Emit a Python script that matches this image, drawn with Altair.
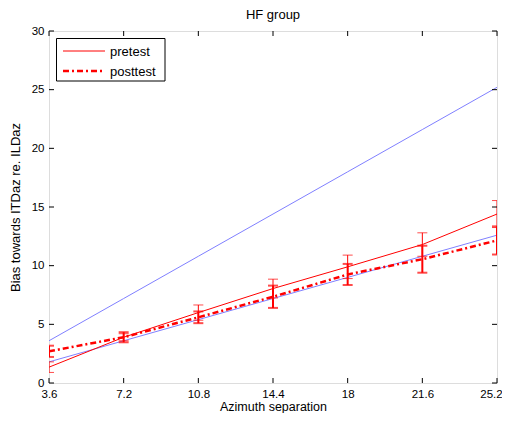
import altair as alt
import pandas as pd

# ---- data ----
azimuth = [3.6, 7.2, 10.8, 14.4, 18, 21.6, 25.2]
pretest = [1.35, 3.9, 6.0, 8.05, 9.9, 11.8, 14.4]
pretest_err = [0.45, 0.3, 0.65, 0.8, 1.0, 1.0, 1.15]
posttest = [2.7, 3.9, 5.6, 7.35, 9.25, 10.55, 12.15]
posttest_err = [0.48, 0.43, 0.5, 0.95, 0.9, 1.15, 1.2]
ref_full = [3.6, 7.2, 10.8, 14.4, 18, 21.6, 25.2]
ref_half = [1.8, 3.6, 5.4, 7.2, 9.0, 10.8, 12.6]
x_ticks = [3.6, 7.2, 10.8, 14.4, 18, 21.6, 25.2]
y_ticks = [0, 5, 10, 15, 20, 25, 30]
series_names = ["pretest", "posttest"]

W, H = 448, 352
RED = "#ff0000"
BLUE = "#8080ff"
FONT = "Liberation Sans"

ref_df = pd.DataFrame({
    "x": azimuth * 2,
    "y": ref_full + ref_half,
    "ref": ["full"] * len(azimuth) + ["half"] * len(azimuth),
})
pre_df = pd.DataFrame({"x": azimuth, "y": pretest, "lo": [a - b for a, b in zip(pretest, pretest_err)],
                       "hi": [a + b for a, b in zip(pretest, pretest_err)]})
post_df = pd.DataFrame({"x": azimuth, "y": posttest, "lo": [a - b for a, b in zip(posttest, posttest_err)],
                        "hi": [a + b for a, b in zip(posttest, posttest_err)]})

xscale = alt.Scale(domain=[3.6, 25.2], nice=False, zero=False)
yscale = alt.Scale(domain=[0, 30], nice=False, zero=False)

xaxis = alt.Axis(values=x_ticks, format=".3~g", title="Azimuth separation", grid=False, ticks=False,
                 tickSize=0, domain=False, labelPadding=5, labelFontSize=11.5,
                 labelOffset={"condition": {"test": "datum.value > 25", "value": -6}, "value": 0},
                 titleFontSize=12.5, titleBaseline="alphabetic", titleY=27,
                 labelColor="black", titleColor="black", labelFont=FONT,
                 titleFont=FONT, titleFontWeight="normal", labelFlush=False, labelOverlap=False)
yaxis = alt.Axis(values=y_ticks, title="Bias towards ITDaz re. ILDaz", grid=False, ticks=False,
                 tickSize=0, domain=False, labelPadding=5, titlePadding=9, labelFontSize=11.5,
                 titleFontSize=13, labelColor="black", titleColor="black", labelFont=FONT,
                 titleFont=FONT, titleFontWeight="normal", labelFlush=False, labelOverlap=False)

X = alt.X("x:Q", scale=xscale, axis=xaxis)
Y = alt.Y("y:Q", scale=yscale, axis=yaxis)

ref_lines = alt.Chart(ref_df).mark_line(color=BLUE, strokeWidth=1, clip=True).encode(
    x=X, y=Y, detail="ref:N")

pre_line = alt.Chart(pre_df).mark_line(color=RED, strokeWidth=1, clip=True).encode(x=X, y=Y)
post_line = alt.Chart(post_df).mark_line(color=RED, strokeWidth=2.5, strokeDash=[6, 3, 2, 3],
                                         clip=True).encode(x=X, y=Y)

def errbars(df, width):
    base = alt.Chart(df)
    rule = base.mark_rule(color=RED, strokeWidth=width, clip=True).encode(
        x=alt.X("x:Q", scale=xscale), y=alt.Y("lo:Q", scale=yscale), y2="hi:Q")
    cap_lo = base.mark_tick(color=RED, orient="horizontal", size=10, thickness=width, clip=True).encode(
        x=alt.X("x:Q", scale=xscale), y=alt.Y("lo:Q", scale=yscale))
    cap_hi = base.mark_tick(color=RED, orient="horizontal", size=10, thickness=width, clip=True).encode(
        x=alt.X("x:Q", scale=xscale), y=alt.Y("hi:Q", scale=yscale))
    return rule + cap_lo + cap_hi

pre_err = errbars(pre_df, 1)
post_err = errbars(post_df, 2)

# inward axis ticks (MATLAB style box)
xt = pd.DataFrame({"x": x_ticks})
yt = pd.DataFrame({"y": y_ticks})
TL = 5
tick_bottom = alt.Chart(xt).mark_rule(color="black", strokeWidth=1).encode(
    x=alt.X("x:Q", scale=xscale), y=alt.value(H - TL), y2=alt.value(H))
tick_top = alt.Chart(xt).mark_rule(color="black", strokeWidth=1).encode(
    x=alt.X("x:Q", scale=xscale), y=alt.value(0), y2=alt.value(TL))
tick_left = alt.Chart(yt).mark_rule(color="black", strokeWidth=1).encode(
    y=alt.Y("y:Q", scale=yscale), x=alt.value(0), x2=alt.value(TL))
tick_right = alt.Chart(yt).mark_rule(color="black", strokeWidth=1).encode(
    y=alt.Y("y:Q", scale=yscale), x=alt.value(W - TL), x2=alt.value(W))

# legend box
dummy = alt.Data(values=[{"k": 0}])
leg_box = alt.Chart(dummy).mark_rect(fill="white", stroke="black", strokeWidth=1).encode(
    x=alt.value(7.5), x2=alt.value(116), y=alt.value(7.5), y2=alt.value(50))
leg_pre = alt.Chart(dummy).mark_rule(color=RED, strokeWidth=1).encode(
    x=alt.value(14), x2=alt.value(56), y=alt.value(20))
leg_post = alt.Chart(dummy).mark_rule(color=RED, strokeWidth=2.5, strokeDash=[6, 3, 2, 3]).encode(
    x=alt.value(14), x2=alt.value(56), y=alt.value(40))
leg_t1 = alt.Chart(dummy).mark_text(align="left", baseline="middle", font=FONT, fontSize=13,
                                    color="black").encode(
    x=alt.value(61), y=alt.value(20.5), text=alt.value(series_names[0]))
leg_t2 = alt.Chart(dummy).mark_text(align="left", baseline="middle", font=FONT, fontSize=13,
                                    color="black").encode(
    x=alt.value(61), y=alt.value(40.5), text=alt.value(series_names[1]))

chart = alt.layer(
    ref_lines, pre_line, post_line, pre_err, post_err,
    tick_bottom, tick_top, tick_left, tick_right,
    leg_box, leg_pre, leg_post, leg_t1, leg_t2,
).properties(
    width=W, height=H,
    title=alt.TitleParams("HF group", font=FONT, fontSize=13, fontWeight="normal", color="black",
                          anchor="middle", offset=3),
    autosize=alt.AutoSizeParams(type="none"),
    padding={"left": 41, "top": 23, "right": 5, "bottom": 30},
).configure_view(stroke="black", strokeWidth=1).configure(background="white")

chart.save("out.html", embed_options={"renderer": "svg", "actions": False})
